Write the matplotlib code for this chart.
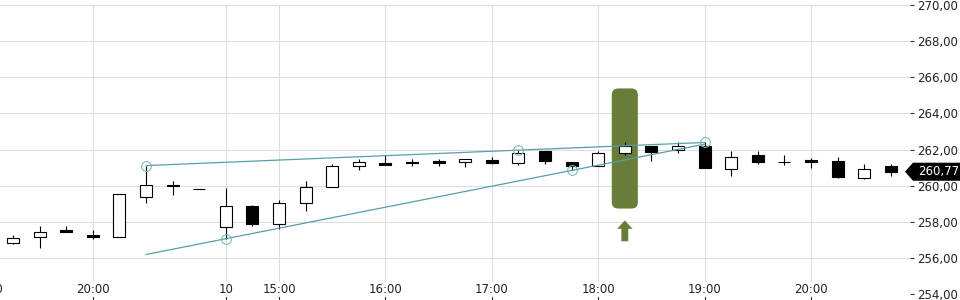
import numpy as np
import matplotlib
matplotlib.use('Agg')
import matplotlib.pyplot as plt
from matplotlib.patches import FancyBboxPatch, Polygon
from matplotlib.transforms import blended_transform_factory

# candele da 15 minuti (open, high, low, close)
opens  = [256.83, 257.17, 257.52, 257.28, 257.17, 259.36, 260.02, 259.82, 257.72, 258.88,
          257.89, 259.05, 259.93, 261.10, 261.28, 261.33, 261.34, 261.32, 261.43, 261.24,
          261.89, 261.32, 261.10, 261.82, 262.18, 262.00, 262.22, 260.93, 261.72, 261.30,
          261.40, 261.34, 260.43, 261.06]
highs  = [257.24, 257.74, 257.74, 257.57, 259.51, 261.11, 260.24, 259.82, 259.88, 258.95,
          259.23, 260.23, 261.21, 261.49, 261.72, 261.45, 261.45, 261.49, 261.61, 262.00,
          261.94, 261.32, 261.94, 262.44, 262.22, 262.44, 262.39, 261.89, 261.94, 261.71,
          261.55, 261.56, 261.17, 261.19]
lows   = [256.76, 256.53, 257.44, 257.02, 257.17, 259.03, 259.49, 259.82, 257.06, 257.74,
          257.59, 258.58, 259.93, 260.88, 261.13, 261.06, 261.06, 261.02, 261.21, 261.13,
          261.19, 260.84, 261.10, 261.68, 261.35, 261.82, 260.99, 260.54, 261.19, 261.15,
          260.99, 260.41, 260.38, 260.54]
closes = [257.11, 257.46, 257.46, 257.13, 259.51, 260.01, 259.96, 259.82, 258.88, 257.86,
          259.05, 259.93, 261.06, 261.32, 261.13, 261.25, 261.26, 261.49, 261.26, 261.83,
          261.37, 261.10, 261.82, 262.17, 261.85, 262.22, 260.99, 261.61, 261.30, 261.30,
          261.30, 260.47, 260.93, 260.77]

tick_pos = [3, 8, 10, 14, 18, 22, 26, 30]
tick_lab = ['20:00', '10', '15:00', '16:00', '17:00', '18:00', '19:00', '20:00']
yticks = np.arange(254, 271, 2)

# trendline: punti di ancoraggio (indice candela)
up_idx = [5, 26]         # massimi
low_idx = [8, 21]        # minimi
marker_hi = [5, 19, 26]
marker_lo = [8, 21]
signal_idx = 23
ultimo = closes[-1]

teal = '#56a0a3'
verde = '#6a7c3a'

fig = plt.figure(figsize=(9.6, 3), dpi=100)
ax = fig.add_axes([0, 6 / 300, 910 / 960, 289 / 300])
ax.set_xlim(-13 / 26.6, 897 / 26.6)
ax.set_ylim(254, 270)

x = np.arange(len(opens))
o = np.array(opens); c = np.array(closes)
h = np.array(highs); l = np.array(lows)

# evidenziazione verde + freccia
box = FancyBboxPatch((signal_idx - 0.49, 258.73), 0.98, 265.38 - 258.73,
                     boxstyle='round,pad=0,rounding_size=0.24', mutation_aspect=1.47,
                     facecolor=verde, edgecolor='none', zorder=1)
ax.add_patch(box)
freccia = Polygon([(signal_idx, 258.07), (signal_idx + 0.29, 257.61), (signal_idx + 0.13, 257.61),
                   (signal_idx + 0.13, 256.92), (signal_idx - 0.13, 256.92),
                   (signal_idx - 0.13, 257.61), (signal_idx - 0.29, 257.61)],
                  closed=True, facecolor=verde, edgecolor='none', zorder=1)
ax.add_patch(freccia)

# candele
ax.vlines(x, l, h, color='black', lw=0.8, zorder=3)
fill = ['white' if cc >= oo else 'black' for oo, cc in zip(o, c)]
ax.bar(x, np.abs(c - o), bottom=np.minimum(o, c), width=0.45, color=fill,
       edgecolor='black', linewidth=0.8, zorder=4)

# trendline
xu = np.array(up_idx)
yu = h[xu]
ax.plot(xu, yu, color=teal, lw=0.9, zorder=5)
k = (l[low_idx[1]] - l[low_idx[0]]) / (low_idx[1] - low_idx[0])
xl = np.array([up_idx[0], up_idx[1]])
yl = l[low_idx[0]] + k * (xl - low_idx[0])
ax.plot(xl, yl, color=teal, lw=0.9, zorder=5)
ax.plot(marker_hi, h[marker_hi], 'o', ms=7, mfc='none', mec='#7fb9bb', mew=0.8, zorder=6)
ax.plot(marker_lo, l[marker_lo], 'o', ms=7, mfc='none', mec='#7fb9bb', mew=0.8, zorder=6)

# assi
for s in ax.spines.values():
    s.set_visible(False)
ax.grid(True, color='#dddddd', lw=0.75, zorder=0)
ax.set_axisbelow(True)
ax.yaxis.tick_right()
ax.set_yticks(yticks)
ax.set_yticklabels([f'{v:.2f}'.replace('.', ',') for v in yticks])
ax.tick_params(axis='y', length=3, width=0.8, color='#333333', pad=2,
               labelsize=8.5, labelcolor='#222222')
ax.set_xticks(tick_pos)
ax.set_xticklabels(tick_lab)
ax.tick_params(axis='x', length=4.3, width=0.8, color='#333333', direction='out',
               pad=-12.2, labelsize=8.5, labelcolor='#222222')
for t in ax.get_xticklabels():
    t.set_bbox(dict(facecolor='white', edgecolor='none', pad=0.5))

trans = blended_transform_factory(ax.transData, ax.transAxes)
ax.text(-1, 11 / 289, '19:00', transform=trans, ha='center', va='top', fontsize=8.5,
        color='#222222', clip_on=False,
        bbox=dict(facecolor='white', edgecolor='none', pad=0.5))

# etichetta ultimo prezzo
tr2 = blended_transform_factory(ax.transAxes, ax.transData)
tag = Polygon([(905 / 910, ultimo), (913 / 910, ultimo + 0.5), (1.06, ultimo + 0.5),
               (1.06, ultimo - 0.5), (913 / 910, ultimo - 0.5)],
              closed=True, transform=tr2, facecolor='black', edgecolor='none',
              clip_on=False, zorder=7)
ax.add_patch(tag)
ax.text(918 / 910, ultimo, f'{ultimo:.2f}'.replace('.', ','), transform=tr2,
        ha='left', va='center', fontsize=8.5, color='white', zorder=8, clip_on=False)

fig.savefig('out.png', dpi=100)
